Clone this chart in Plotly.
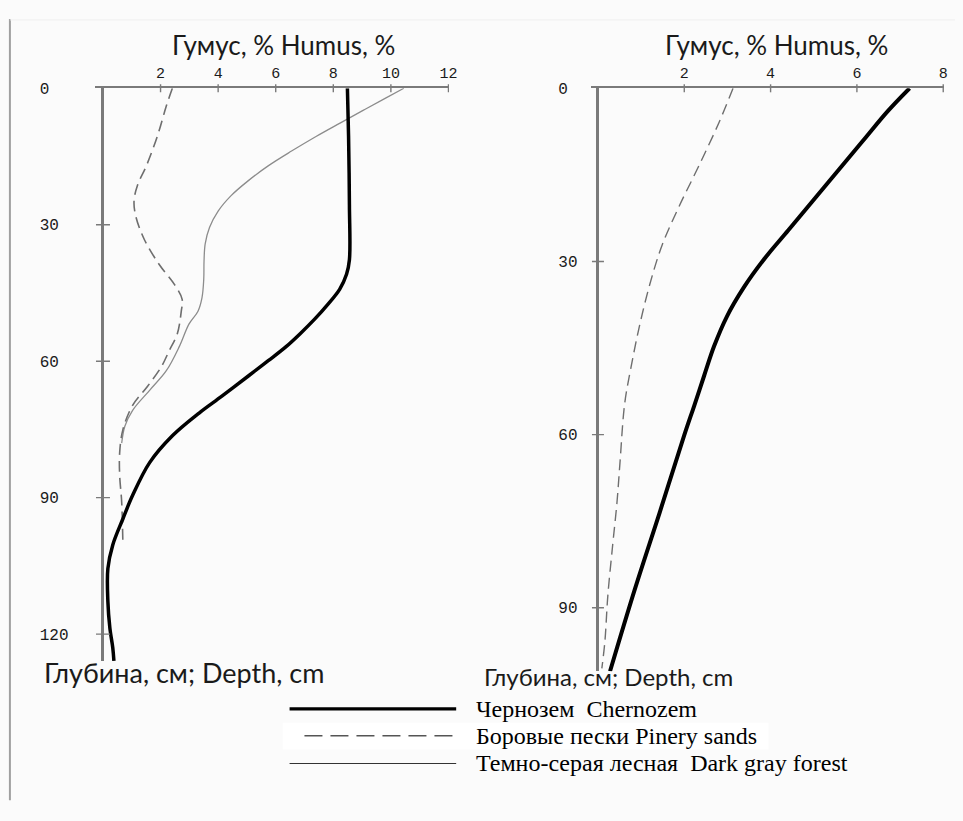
import plotly.graph_objects as go

W, H = 963, 821

series_names = ["Чернозем  Chernozem", "Боровые пески Pinery sands", "Темно-серая лесная  Dark gray forest"]
x_title = "Гумус, % Humus, %"
y_title = "Глубина, см; Depth, cm"

x_ticks_left = [2, 4, 6, 8, 10, 12]
x_ticks_right = [2, 4, 6, 8]
y_ticks_left = [0, 30, 60, 90, 120]
y_ticks_right = [0, 30, 60, 90]

# ---- left panel ----
left_chern_humus = [8.49, 8.53, 8.56, 8.56, 8.46, 8.22, 7.81, 7.36, 6.84, 6.36, 5.74, 5.06, 4.13, 3.34, 2.41, 1.62, 1.03, 0.69, 0.34, 0.17, 0.17, 0.24, 0.34, 0.38]
left_chern_depth = [0, 10.5, 25.7, 37.7, 40.9, 44.2, 47.5, 50.7, 54.0, 56.8, 59.9, 63.2, 67.7, 71.4, 76.4, 82.3, 89.5, 94.7, 100.4, 105.6, 112.8, 118.7, 123.0, 125.9]

left_sand_humus = [2.41, 2.20, 1.89, 1.51, 1.20, 1.08, 1.13, 1.44, 1.96, 2.48, 2.75, 2.72, 2.58, 2.30, 2.03, 1.55, 1.03, 0.69, 0.58, 0.58, 0.65, 0.69]
left_sand_depth = [0, 3.9, 10.5, 17.0, 21.3, 24.6, 27.9, 33.3, 38.8, 43.1, 46.4, 49.0, 54.0, 57.7, 61.2, 65.5, 69.7, 75.1, 80.1, 85.1, 91.0, 99.7]

left_forest_humus = [10.45, 9.80, 9.05, 8.25, 7.40, 6.55, 5.75, 5.05, 4.45, 4.00, 3.70, 3.55, 3.51, 3.50, 3.44, 3.30, 2.99, 2.65, 2.20, 1.62, 1.03, 0.76, 0.65]
left_forest_depth = [0, 2.2, 4.8, 7.6, 10.6, 13.8, 17.0, 20.3, 23.6, 27.0, 30.6, 34.2, 38.0, 42.0, 46.0, 49.0, 51.8, 56.8, 62.1, 66.4, 70.8, 74.3, 78.0]

# ---- right panel ----
right_chern_humus = [7.22, 6.71, 6.14, 5.56, 4.99, 4.41, 3.84, 3.38, 2.99, 2.69, 2.46, 2.23, 2.00, 1.43, 0.85, 0.28]
right_chern_depth = [0, 4.0, 9.1, 14.3, 19.4, 24.6, 29.7, 34.5, 39.5, 44.7, 49.8, 55.0, 60.1, 73.5, 86.9, 101.0]

right_sand_humus = [3.13, 2.80, 2.34, 1.89, 1.49, 1.20, 0.97, 0.78, 0.62, 0.51, 0.44, 0.34, 0.23, 0.16, 0.09]
right_sand_depth = [0, 6.0, 13.4, 20.3, 27.1, 34.0, 40.9, 47.8, 54.6, 64.9, 71.8, 79.2, 87.8, 95.9, 100.5]

AX_GRAY = "#7a7a7a"
TICK_FONT = dict(family="Liberation Mono", size=15, color="#1a1a1a")

fig = go.Figure()

def line(x, y, xa, ya, color, width, dash="solid"):
    fig.add_trace(go.Scatter(
        x=x, y=y, mode="lines", xaxis=xa, yaxis=ya, showlegend=False, hoverinfo="skip",
        line=dict(color=color, width=width, dash=dash, shape="spline", smoothing=1.0)))

line(left_forest_humus, left_forest_depth, "x", "y", "#8c8c8c", 1.3)
line(left_sand_humus, left_sand_depth, "x", "y", "#6e6e6e", 1.6, "11px,6px")
line(left_chern_humus, left_chern_depth, "x", "y", "#000000", 3.5)
line(right_sand_humus, right_sand_depth, "x2", "y2", "#6e6e6e", 1.4, "11px,6px")
line(right_chern_humus, right_chern_depth, "x2", "y2", "#000000", 4)

def xaxis_cfg(domain, rng, ticks, anchor):
    return dict(domain=domain, range=rng, side="top", anchor=anchor,
                tickvals=ticks, ticktext=[str(t) for t in ticks],
                ticks="outside", ticklen=3, tickcolor="rgba(0,0,0,0)",
                showline=True, linecolor=AX_GRAY, linewidth=1.6,
                showgrid=False, zeroline=True, zerolinecolor=AX_GRAY, zerolinewidth=2.6,
                tickfont=TICK_FONT, fixedrange=True)

def yaxis_cfg(domain, rng, ticks, pos):
    return dict(domain=domain, range=rng, side="right", anchor="free", position=pos,
                tickvals=ticks, ticktext=[str(t) for t in ticks],
                ticks="", showline=False, showgrid=False, zeroline=False,
                tickfont=dict(family="Liberation Mono", size=16, color="#1a1a1a"),
                fixedrange=True)

fig.update_layout(
    width=W, height=H,
    margin=dict(l=0, r=0, t=0, b=0),
    paper_bgcolor="#fbfbfb", plot_bgcolor="rgba(0,0,0,0)",
    showlegend=False,
    xaxis=xaxis_cfg([96.0 / W, 452.8 / W], [-0.27, 12.02], x_ticks_left, "y"),
    yaxis=yaxis_cfg([1 - 660 / H, 1 - 82 / H], [126, 0], y_ticks_left, 39 / W),
    xaxis2=xaxis_cfg([596.0 / W, 952.0 / W], [-0.16, 8.02], x_ticks_right, "y2"),
    yaxis2=yaxis_cfg([1 - 670 / H, 1 - 82 / H], [101, 0], y_ticks_right, 562 / W),
)

shapes = []
# crossing tick marks on the humus axes
for xa, ticks in (("x", x_ticks_left), ("x2", x_ticks_right)):
    ya = "y" if xa == "x" else "y2"
    for t in ticks:
        shapes.append(dict(type="line", xref=xa, yref=ya + " domain", x0=t, x1=t,
                           ysizemode="pixel", yanchor=1, y0=-4, y1=4,
                           line=dict(color=AX_GRAY, width=1.4)))
# crossing tick marks on the depth axes
for xa, ya, ticks, half in (("x", "y", y_ticks_left, 7), ("x2", "y2", y_ticks_right, 6)):
    for t in ticks[1:]:
        shapes.append(dict(type="line", xref=xa, yref=ya, y0=t, y1=t,
                           xsizemode="pixel", xanchor=0, x0=-half, x1=half,
                           line=dict(color=AX_GRAY, width=1.4)))

# page border at left / faint top rule
shapes.append(dict(type="line", xref="paper", yref="paper", x0=10 / W, x1=10 / W,
                   y0=1 - 12 / H, y1=1 - 800 / H, line=dict(color="#a0a0a0", width=2)))
shapes.append(dict(type="line", xref="paper", yref="paper", x0=10 / W, x1=1,
                   y0=1 - 13 / H, y1=1 - 13 / H, line=dict(color="#efefef", width=1)))
# white band behind second legend row
shapes.append(dict(type="rect", xref="paper", yref="paper", x0=285 / W, x1=775 / W,
                   y0=1 - 749 / H, y1=1 - 722 / H, fillcolor="#ffffff", line=dict(width=0), layer="below"))

# legend samples
legend_styles = [
    dict(color="#000000", width=3.2, dash="solid"),
    dict(color="#555555", width=1.3, dash="18px,8px"),
    dict(color="#333333", width=1.1, dash="solid"),
]
legend_x0 = [292, 307, 292]
legend_rows = [708, 735, 763]
for name, st, lx, ly in zip(series_names, legend_styles, legend_x0, legend_rows):
    shapes.append(dict(type="line", xref="paper", yref="paper", x0=lx / W, x1=460 / W,
                       y0=1 - ly / H, y1=1 - ly / H, line=st))

fig.update_layout(shapes=shapes)

ann = []
TITLE_FONT = dict(family="Lato", size=26, color="#1a1a1a")
ann.append(dict(text=x_title, xref="paper", yref="paper", x=286 / W, y=1 - 38 / H,
                showarrow=False, xanchor="center", yanchor="middle", font=TITLE_FONT))
ann.append(dict(text=x_title, xref="paper", yref="paper", x=783 / W, y=1 - 38 / H,
                showarrow=False, xanchor="center", yanchor="middle", font=TITLE_FONT))
ann.append(dict(text=y_title, xref="paper", yref="paper", x=42 / W, y=1 - 671 / H,
                showarrow=False, xanchor="left", yanchor="middle",
                font=dict(family="Lato", size=27, color="#1a1a1a")))
ann.append(dict(text=y_title, xref="paper", yref="paper", x=486 / W, y=1 - 675 / H,
                showarrow=False, xanchor="left", yanchor="middle",
                font=dict(family="Lato", size=24, color="#1a1a1a")))
for name, ly in zip(series_names, legend_rows):
    ann.append(dict(text=name.replace("  ", "&nbsp; "), xref="paper", yref="paper", x=478 / W, y=1 - ly / H,
                    showarrow=False, xanchor="left", yanchor="middle",
                    font=dict(family="Liberation Serif", size=24, color="#000000")))
fig.update_layout(annotations=ann)

fig.write_html("out.html", config={"displayModeBar": False},
               post_script="document.body.style.margin='0px';document.body.style.overflow='hidden';")
